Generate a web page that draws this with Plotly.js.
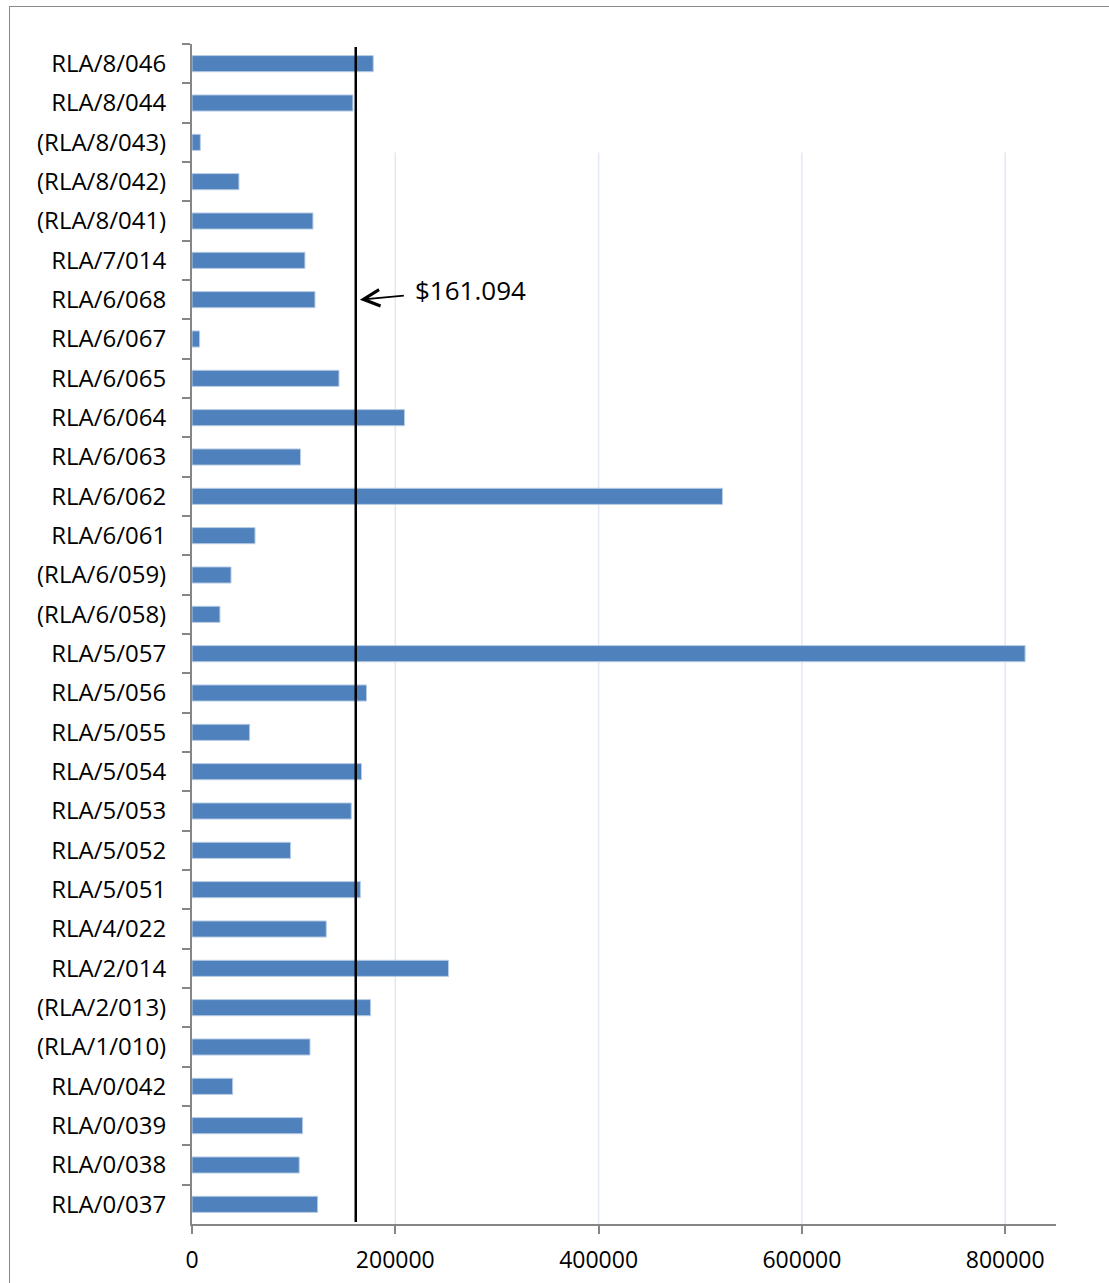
<!DOCTYPE html>
<html>
<head>
<meta charset="utf-8">
<script src="https://cdn.plot.ly/plotly-3.0.1.min.js"></script>
<style>
  html, body { margin: 0; padding: 0; background: #fff; }
  #wrap { position: relative; width: 1109px; height: 1283px; overflow: hidden; }
  #chart { position: absolute; left: 0; top: 0; width: 1109px; height: 1283px; }
  #frame { position: absolute; left: 9px; top: 6px; width: 1120px; height: 1300px;
           border: 1.5px solid #8a8a8a; pointer-events: none; }
</style>
</head>
<body>
<div id="wrap">
  <div id="chart"></div>
  <div id="frame"></div>
</div>
<script>
// Categories, top to bottom as shown
const categories = [
  "RLA/8/046", "RLA/8/044", "(RLA/8/043)", "(RLA/8/042)", "(RLA/8/041)",
  "RLA/7/014", "RLA/6/068", "RLA/6/067", "RLA/6/065", "RLA/6/064",
  "RLA/6/063", "RLA/6/062", "RLA/6/061", "(RLA/6/059)", "(RLA/6/058)",
  "RLA/5/057", "RLA/5/056", "RLA/5/055", "RLA/5/054", "RLA/5/053",
  "RLA/5/052", "RLA/5/051", "RLA/4/022", "RLA/2/014", "(RLA/2/013)",
  "(RLA/1/010)", "RLA/0/042", "RLA/0/039", "RLA/0/038", "RLA/0/037"
];
const values = [
  178300, 158300, 8200, 46200, 119000,
  111100, 121000, 7500, 144600, 209100,
  106800, 521900, 62000, 38400, 27500,
  819600, 171700, 56700, 166800, 156700,
  97000, 165600, 132100, 252400, 175700,
  116100, 40000, 108800, 105500, 123600
];
const averageValue = 161094;
const averageLabel = "$161.094";
const averageLabelCategory = "RLA/6/068";
const xTickValues = [0, 200000, 400000, 600000, 800000];
const xTickLabels = ["0", "200000", "400000", "600000", "800000"];
const xMax = 850000;

const FONT = "Open Sans, sans-serif";

const trace = {
  type: "bar",
  orientation: "h",
  y: categories,
  x: values,
  marker: { color: "#4f81bd", line: { color: "#b9cde5", width: 1 } },
  hoverinfo: "x+y"
};

const gridShapes = xTickValues.filter(v => v > 0).map(v => ({
  type: "line", xref: "x", yref: "paper",
  x0: v, x1: v, y0: 0, y1: 0.908,
  line: { color: "#e1e8f3", width: 1.5 },
  layer: "below"
}));

const layout = {
  width: 1109, height: 1283,
  margin: { l: 192, r: 53, t: 44, b: 59 },
  paper_bgcolor: "rgba(0,0,0,0)",
  plot_bgcolor: "rgba(0,0,0,0)",
  showlegend: false,
  bargap: 0.59,
  font: { family: FONT, size: 23, color: "#000" },
  xaxis: {
    range: [0, xMax],
    tickvals: xTickValues,
    ticktext: xTickLabels,
    showgrid: false,
    zeroline: false,
    showline: true, linecolor: "#868686", linewidth: 2,
    ticks: "outside", ticklen: 8, tickcolor: "#868686", tickwidth: 2,
    ticklabelstandoff: 6,
    tickfont: { family: FONT, size: 23, color: "#000" },
    fixedrange: true
  },
  yaxis: {
    type: "category",
    categoryorder: "array",
    categoryarray: categories,
    autorange: "reversed",
    showgrid: false,
    zeroline: false,
    showline: true, linecolor: "#868686", linewidth: 2,
    ticks: "outside", ticklen: 8, tickcolor: "#868686", tickwidth: 2,
    tickson: "boundaries",
    ticklabelstandoff: 19,
    tickfont: { family: FONT, size: 24, color: "#000" },
    fixedrange: true
  },
  shapes: gridShapes.concat([{
    type: "line", xref: "x", yref: "paper",
    x0: averageValue, x1: averageValue, y0: 0.0017, y1: 0.9975,
    line: { color: "#000", width: 2.5 }
  }]),
  annotations: [{
    x: averageValue + 4000, y: averageLabelCategory,
    xref: "x", yref: "y",
    text: averageLabel,
    showarrow: true,
    arrowhead: 5, arrowsize: 1.8, arrowwidth: 1.8, arrowcolor: "#000",
    startstandoff: 10,
    ax: 111, ay: -10,
    font: { family: FONT, size: 26, color: "#000" }
  }]
};

Plotly.newPlot("chart", [trace], layout, { staticPlot: true, displayModeBar: false });
</script>
</body>
</html>
